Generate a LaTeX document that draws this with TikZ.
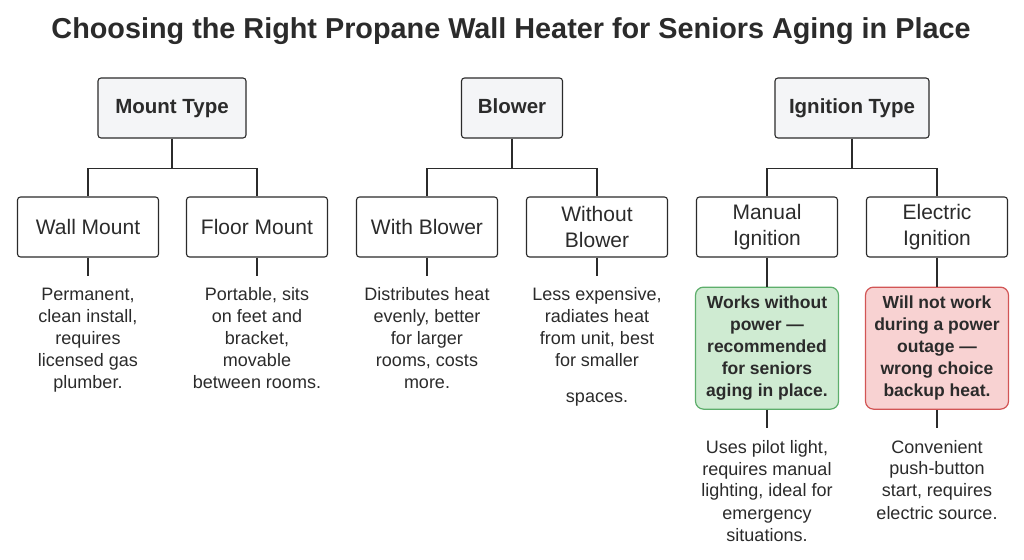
\documentclass[tikz,border=0pt]{standalone}
\usepackage{fontspec}
\setmainfont{Liberation Sans}
\usetikzlibrary{positioning}
\definecolor{ink}{HTML}{2B2B2B}
\definecolor{topfill}{HTML}{F4F5F7}
\definecolor{goodfill}{HTML}{CFEBD2}
\definecolor{goodline}{HTML}{5DAE6B}
\definecolor{badfill}{HTML}{F8D2D2}
\definecolor{badline}{HTML}{D25555}

\begin{document}
\begin{tikzpicture}[x=1pt, y=-1pt, text=ink,
  group/.style={draw=ink, fill=topfill, rounded corners=3pt, line width=1.1pt,
    minimum height=60pt, text height=1.3em, text depth=0.2em,
    font=\fontsize{20.5}{24}\selectfont\bfseries},
  option/.style={draw=ink, fill=white, rounded corners=3pt, line width=1.1pt,
    minimum width=141pt, minimum height=60pt, align=center,
    font=\fontsize{21}{26}\selectfont},
  note/.style={inner sep=0pt, align=center, font=\fontsize{18}{22}\selectfont},
  verdict/.style={rounded corners=8pt, line width=1.2pt, minimum width=143pt,
    minimum height=122pt, align=center, font=\fontsize{17.5}{22}\selectfont\bfseries},
  link/.style={draw=ink, line width=1.1pt}]
\useasboundingbox[fill=white] (0,0) rectangle (1024,559);

\node (title) at (511,31) {\fontsize{28.8}{32}\selectfont\bfseries Choosing the Right Propane Wall Heater for Seniors Aging in Place};

% top row
\node[group, minimum width=148pt] (mount) at (172,108) {Mount Type};
\node[group, minimum width=101pt] (blower) at (512,108) {Blower};
\node[group, minimum width=154pt] (ignition) at (852,108) {Ignition Type};

% options
\node[option] (wall) at (88,227) {Wall Mount};
\node[option] (floor) at (257,227) {Floor Mount};
\node[option] (withb) at (427,227) {With Blower};
\node[option] (without) at (597,227) {Without\\Blower};
\node[option] (manual) at (767,227) {Manual\\Ignition};
\node[option] (electric) at (937,227) {Electric\\Ignition};

\foreach \p/\a/\b in {mount/wall/floor, blower/withb/without, ignition/manual/electric} {
  \draw[link] (\p.south) -- ++(0,30) coordinate (\p-j) -| (\a.north);
  \draw[link] (\p-j) -| (\b.north);
}

% descriptions
\node[note, below=30pt of wall] (wall-txt) {Permanent,\\clean install,\\requires\\licensed gas\\plumber.};
\node[note, below=30pt of floor] (floor-txt) {Portable, sits\\on feet and\\bracket,\\movable\\between rooms.};
\node[note, below=30pt of withb] (withb-txt) {Distributes heat\\evenly, better\\for larger\\rooms, costs\\more.};
\node[note, below=30pt of without] (without-txt) {Less expensive,\\radiates heat\\from unit, best\\for smaller\\[14pt]spaces.};

% ignition verdicts
\node[verdict, draw=goodline, fill=goodfill, below=29pt of manual] (good) {Works without\\power ---\\recommended\\for seniors\\aging in place.};
\node[verdict, draw=badline, fill=badfill, below=29pt of electric] (bad) {Will not work\\during a power\\outage ---\\wrong choice\\backup heat.};
\node[note, below=30pt of good] (manual-txt) {Uses pilot light,\\requires manual\\lighting, ideal for\\emergency\\situations.};
\node[note, below=30pt of bad] (electric-txt) {Convenient\\push-button\\start, requires\\electric source.};

\foreach \a in {wall, floor, withb, without}
  \draw[link, shorten >=12pt] (\a) -- (\a-txt);
\draw[link] (manual) -- (good);
\draw[link] (electric) -- (bad);
\draw[link, shorten >=12pt] (good) -- (manual-txt);
\draw[link, shorten >=12pt] (bad) -- (electric-txt);
\end{tikzpicture}
\end{document}
